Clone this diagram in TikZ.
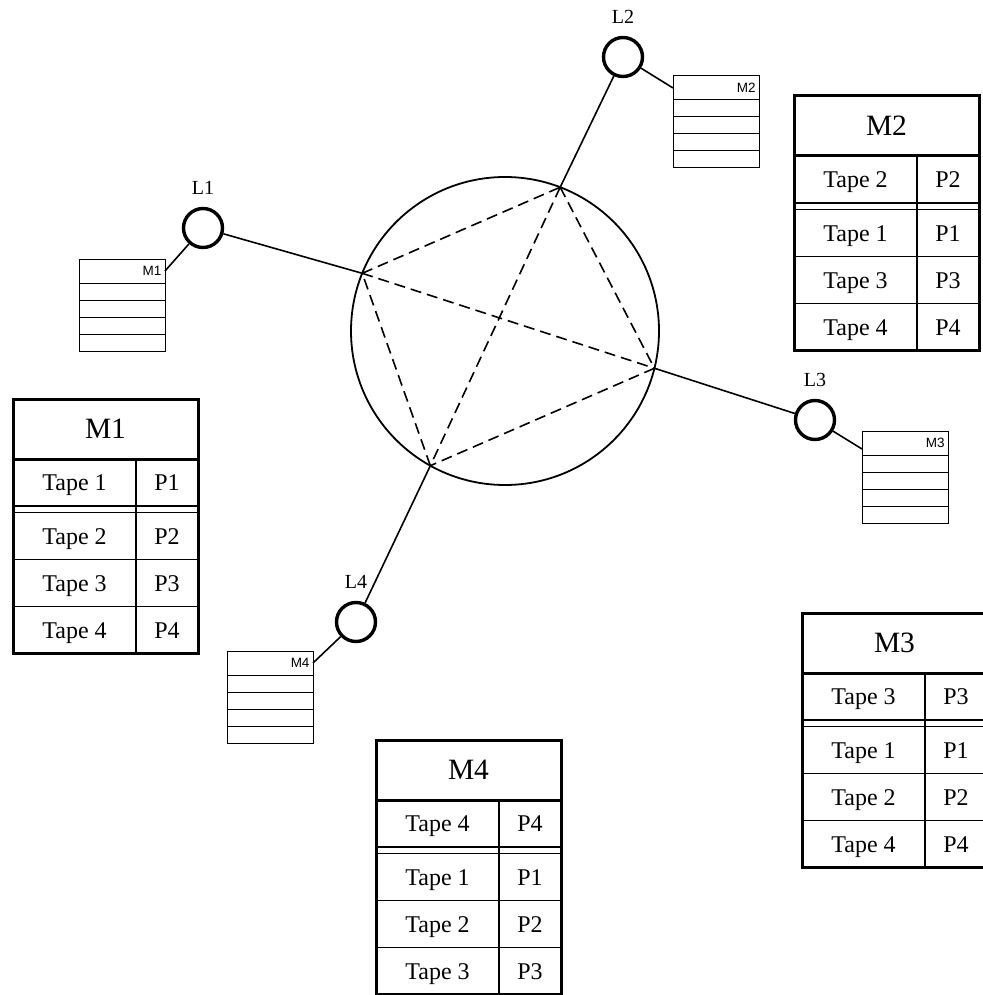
\documentclass[tikz,border=0pt]{standalone}
\usepackage{fontspec}
\setmainfont{Liberation Serif}
\newfontfamily\boxsans{Liberation Sans}
\usepackage{tikz}
\usetikzlibrary{positioning}
\tikzset{
  ring/.style={circle, draw, line width=1.8pt, minimum size=308pt, inner sep=0pt, outer sep=0pt},
  station/.style={circle, draw, line width=3.4pt, minimum size=39pt, inner sep=0pt},
  tagtext/.style={font=\fontsize{20}{24}\selectfont, inner sep=2pt},
  link/.style={line width=1.6pt},
  chord/.style={line width=1.6pt, dash pattern=on 11pt off 6pt},
  memhead/.style={draw, line width=1pt, minimum height=24pt, text width=79pt, inner xsep=3.5pt, inner ysep=0pt, outer sep=0pt, align=right, font=\boxsans\fontsize{13.5}{15}\selectfont},
  memrow/.style={draw, line width=1pt, minimum width=86pt, minimum height=17pt, inner sep=0pt, outer sep=0pt},
  tablehead/.style={draw, line width=1.2pt, minimum width=185pt, minimum height=60pt, inner sep=0pt, outer sep=0pt, font=\fontsize{29.5}{33}\selectfont},
  tapecell/.style={draw, line width=1.2pt, minimum width=123pt, minimum height=47pt, inner sep=0pt, outer sep=0pt, text height=16pt, text depth=0pt, font=\fontsize{24}{28}\selectfont},
  portcell/.style={tapecell, minimum width=62pt},
  tableframe/.style={line width=3pt}
}

% small memory stack: name, top-left corner, label
\newcommand{\memstack}[3]{%
  \node (#1-head) [memhead, anchor=north west] at (#2) {#3};
  \node (#1-r1) [memrow, below=0pt of #1-head] {};
  \node (#1-r2) [memrow, below=0pt of #1-r1] {};
  \node (#1-r3) [memrow, below=0pt of #1-r2] {};
  \node (#1-r4) [memrow, below=0pt of #1-r3] {};
}

% tape table: name, top-left corner, title, tape numbers top to bottom
\newcommand{\tapetable}[7]{%
  \node (#1-head) [tablehead, anchor=north west] at (#2) {#3};
  \node (#1-t1) [tapecell, anchor=north west] at (#1-head.south west) {Tape #4};
  \node (#1-p1) [portcell, right=0pt of #1-t1] {P#4};
  \node (#1-t2) [tapecell, below=6.5pt of #1-t1] {Tape #5};
  \node (#1-p2) [portcell, right=0pt of #1-t2] {P#5};
  \node (#1-t3) [tapecell, below=0pt of #1-t2] {Tape #6};
  \node (#1-p3) [portcell, right=0pt of #1-t3] {P#6};
  \node (#1-t4) [tapecell, below=0pt of #1-t3] {Tape #7};
  \node (#1-p4) [portcell, right=0pt of #1-t4] {P#7};
  \draw[line width=1.2pt] (#1-p1.south west) -- (#1-p2.north west);
  \draw[tableframe] (#1-head.north west) rectangle (#1-p4.south east);
  \draw[tableframe] (#1-head.south west) -- (#1-head.south east);
}

\begin{document}
\begin{tikzpicture}[x=1pt, y=-1pt]
    \useasboundingbox (0,0) rectangle (982,995);

    \node (ring) [ring] at (505,331) {};
    \coordinate (p1) at (ring.158.7);
    \coordinate (p2) at (ring.69.1);
    \coordinate (p3) at (ring.-14.4);
    \coordinate (p4) at (ring.241);

    \node (l1) [station] at (203,228) {};
    \node (l2) [station] at (623,57) {};
    \node (l3) [station] at (815,420) {};
    \node (l4) [station] at (356,622) {};
    \node (l1-tag) [tagtext, above=10pt of l1] {L1};
    \node (l2-tag) [tagtext, above=10pt of l2] {L2};
    \node (l3-tag) [tagtext, above=10pt of l3] {L3};
    \node (l4-tag) [tagtext, above=10pt of l4] {L4};

    \draw[link] (l1) -- (p1);
    \draw[link] (l2) -- (p2);
    \draw[link] (l3) -- (p3);
    \draw[link] (l4) -- (p4);

    \draw[chord] (p1) -- (p2);
    \draw[chord] (p2) -- (p3);
    \draw[chord] (p3) -- (p4);
    \draw[chord] (p4) -- (p1);
    \draw[chord] (p1) -- (p3);
    \draw[chord] (p2) -- (p4);

    \memstack{mem1}{79,259}{M1}
    \memstack{mem2}{673,76}{M2}
    \memstack{mem3}{862,431}{M3}
    \memstack{mem4}{227,651}{M4}

    \draw[link] (l1) -- (mem1-head.east);
    \draw[link] (l2) -- (mem2-head.west);
    \draw[link] (l3) -- ([yshift=-6pt]mem3-head.west);
    \draw[link] (l4) -- (mem4-head.east);

    \tapetable{tab1}{13,399}{M1}{1}{2}{3}{4}
    \tapetable{tab2}{794,96}{M2}{2}{1}{3}{4}
    \tapetable{tab3}{802,613}{M3}{3}{1}{2}{4}
    \tapetable{tab4}{376,740}{M4}{4}{1}{2}{3}
\end{tikzpicture}
\end{document}
